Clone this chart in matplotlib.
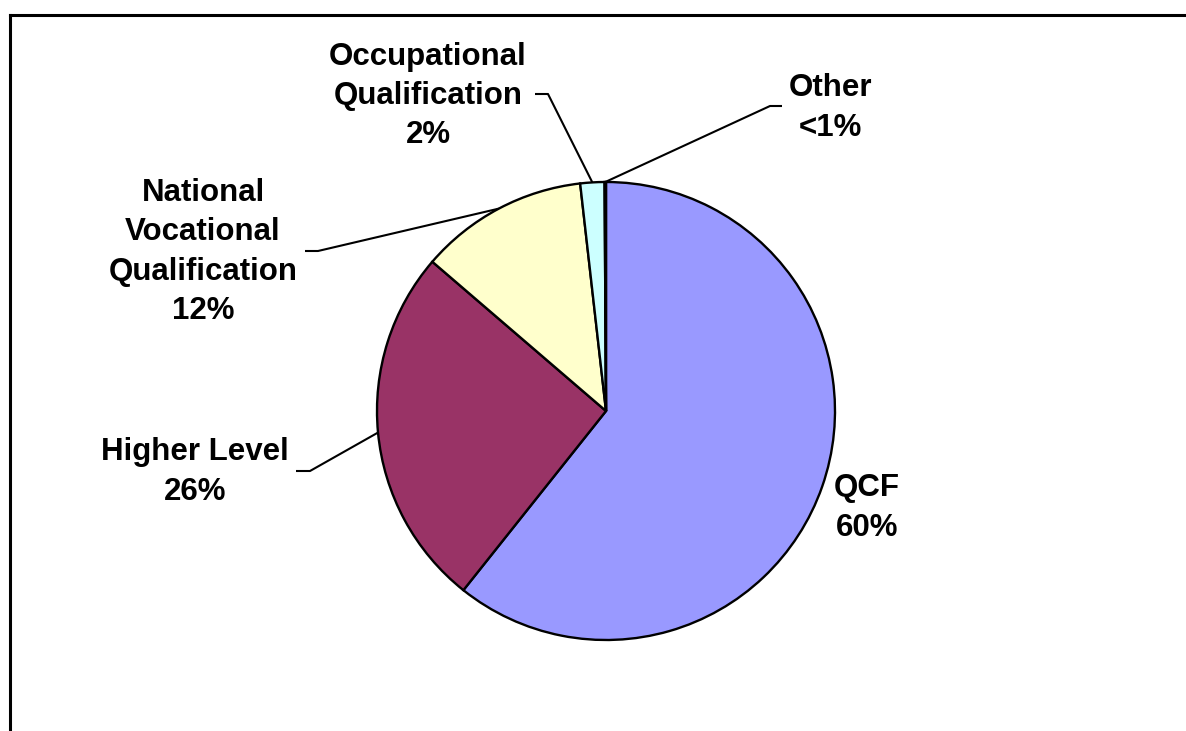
import numpy as np
import matplotlib
matplotlib.use("Agg")
import matplotlib.pyplot as plt

# --- data ---
categories = ["QCF", "Higher Level", "National\nVocational\nQualification",
              "Occupational\nQualification", "Other"]
shares = [60.7, 25.6, 11.9, 1.7, 0.1]
pct_labels = ["60%", "26%", "12%", "2%", "<1%"]
colors = ["#9999FF", "#993366", "#FFFFCC", "#CCFFFF", "#660066"]

# label placement (pixel coords, y from top) and leader elbows
label_pos = [(867, 508), (195, 472), (203, 252), (428, 96), (830, 108)]
elbows = [None, ((310, 471), (296, 471)), ((318, 251), (305, 251)),
          ((548, 94), (535, 94)), ((770, 106), (782, 106))]

W, H = 1186, 731
fig = plt.figure(figsize=(W / 100, H / 100), dpi=100, facecolor="white")

# chart area frame: only top and left edges are visible in the crop
frame = fig.add_axes([10 / W, 0, 1 - 10 / W, (H - 15) / H])
frame.set_xticks([])
frame.set_yticks([])
for side in ["right", "bottom"]:
    frame.spines[side].set_visible(False)
for side in ["top", "left"]:
    frame.spines[side].set_linewidth(2.2)
frame.patch.set_alpha(0)

ax = fig.add_axes([0, 0, 1, 1])
cx, cy, r = 606, H - 411, 229
wedges, _ = ax.pie(shares, colors=colors, startangle=90, counterclock=False,
                   center=(cx, cy), radius=r,
                   wedgeprops=dict(edgecolor="black", linewidth=1.7))
ax.set_xlim(0, W)
ax.set_ylim(0, H)
ax.set_axis_off()

for w, cat, pct, (lx, ly), elb in zip(wedges, categories, pct_labels, label_pos, elbows):
    ax.text(lx, H - ly, f"{cat}\n{pct}", ha="center", va="center",
            fontsize=22.5, fontweight="bold", family=["Liberation Sans", "DejaVu Sans"],
            linespacing=1.4)
    if elb is None:
        continue
    mid = np.deg2rad((w.theta1 + w.theta2) / 2)
    sx, sy = cx + r * np.cos(mid), cy + r * np.sin(mid)
    (ex, ey), (hx, hy) = elb
    ax.plot([sx, ex, hx], [sy, H - ey, H - hy], color="black", lw=1.5,
            solid_capstyle="butt")

plt.savefig("out.png", dpi=100, facecolor="white")
